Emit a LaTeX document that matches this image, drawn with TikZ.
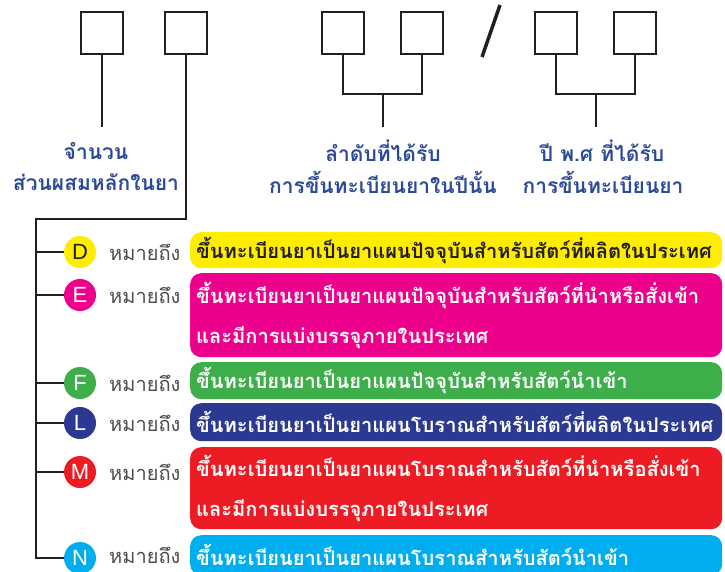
\documentclass[tikz,border=0pt]{standalone}
\usepackage{fontspec}
\newfontfamily\thai[Script=Thai]{Loma}
\newfontfamily\latin{Liberation Sans}
\definecolor{ink}{HTML}{231F20}
\definecolor{lblue}{HTML}{2D4A97}
\definecolor{cyel}{HTML}{FFED00}
\definecolor{cmag}{HTML}{EC008C}
\definecolor{cgrn}{HTML}{3DAE4A}
\definecolor{cnav}{HTML}{2B3990}
\definecolor{cred}{HTML}{ED1C24}
\definecolor{ccya}{HTML}{00AEEF}
\definecolor{gtxt}{HTML}{4D4D4F}
\tikzset{
  sq/.style={draw=ink, line width=2.6pt, minimum size=42pt, inner sep=0pt},
  conn/.style={draw=ink, line width=2.6pt},
  lbl/.style={text=lblue, font=\thai\bfseries\fontsize{21}{24}\selectfont, inner sep=0pt},
  circ/.style={circle, minimum size=32pt, inner sep=0pt, font=\latin\fontsize{22}{22}\selectfont, text=white},
  mean/.style={text=gtxt, font=\thai\fontsize{20}{22}\selectfont, inner sep=0pt, anchor=west},
  bar/.style={rounded corners=11pt, anchor=north west, text width=520pt, inner xsep=6pt, inner ysep=0pt, align=left, text=white, font=\thai\bfseries\fontsize{20.1}{40}\selectfont}
}
\begin{document}
\begin{tikzpicture}[x=1pt,y=-1pt]
\useasboundingbox (0,0) rectangle (725,571);
\clip (0,0) rectangle (725,571);
% top boxes
\node[sq] (b1) at (102,33) {};
\node[sq] (b2) at (186,33) {};
\node[sq] (b3) at (343,33) {};
\node[sq] (b4) at (422,33) {};
\node[sq] (b5) at (556,33) {};
\node[sq] (b6) at (635,33) {};
\coordinate (s1) at (500,5);
\coordinate (s2) at (482,57);
\draw[conn, line width=3.5pt] (s1) -- (s2);
% connectors
\coordinate (t1) at (102,127);
\draw[conn] (b1.south) -- (t1);
\coordinate (m1) at (383,94);
\coordinate (t2) at (383,127);
\draw[conn] (b3.south) |- (m1) -| (b4.south);
\draw[conn] (m1) -- (t2);
\coordinate (m2) at (596,94);
\coordinate (t3) at (596,127);
\draw[conn] (b5.south) |- (m2) -| (b6.south);
\draw[conn] (m2) -- (t3);
% labels
\node[lbl] (l1a) at (96,151) {จำนวน};
\node[lbl] (l1b) at (96,182) {ส่วนผสมหลักในยา};
\node[lbl] (l2a) at (383,151) {ลำดับที่ได้รับ};
\node[lbl] (l2b) at (383,182) {การขึ้นทะเบียนยาในปีนั้น};
\node[lbl] (l3a) at (602,151) {ปี พ.ศ ที่ได้รับ};
\node[lbl] (l3b) at (603,182) {การขึ้นทะเบียนยา};
% rows
\coordinate (spTop) at (36,219);
\node[circ, fill=cyel, text=ink] (cD) at (80,252) {D};
\node[circ, fill=cmag] (cE) at (80,295) {E};
\node[circ, fill=cgrn] (cF) at (80,383) {F};
\node[circ, fill=cnav] (cL) at (80,423) {L};
\node[circ, fill=cred] (cM) at (80,472) {M};
\node[circ, fill=ccya] (cN) at (80,558) {N};
\draw[conn] (b2.south) |- (spTop) |- (cN);
\foreach \c in {cD,cE,cF,cL,cM}{\draw[conn] (\c) -- (\c -| spTop);}
\node[mean] (mD) at (109,252) {หมายถึง};
\node[mean] (mE) at (109,295) {หมายถึง};
\node[mean] (mF) at (109,383) {หมายถึง};
\node[mean] (mL) at (109,423) {หมายถึง};
\node[mean] (mM) at (109,472) {หมายถึง};
\node[mean] (mN) at (109,555) {หมายถึง};
\node[bar, fill=cyel, text=ink, minimum height=36pt] (bD) at (190,232) {ขึ้นทะเบียนยาเป็นยาแผนปัจจุบันสำหรับสัตว์ที่ผลิตในประเทศ};
\node[bar, fill=cmag, minimum height=84pt] (bE) at (190,273) {ขึ้นทะเบียนยาเป็นยาแผนปัจจุบันสำหรับสัตว์ที่นำหรือสั่งเข้า\\และมีการแบ่งบรรจุภายในประเทศ};
\node[bar, fill=cgrn, minimum height=37pt] (bF) at (190,362) {ขึ้นทะเบียนยาเป็นยาแผนปัจจุบันสำหรับสัตว์นำเข้า};
\node[bar, fill=cnav, minimum height=38pt] (bL) at (190,403) {ขึ้นทะเบียนยาเป็นยาแผนโบราณสำหรับสัตว์ที่ผลิตในประเทศ};
\node[bar, fill=cred, minimum height=82pt] (bM) at (190,447) {ขึ้นทะเบียนยาเป็นยาแผนโบราณสำหรับสัตว์ที่นำหรือสั่งเข้า\\และมีการแบ่งบรรจุภายในประเทศ};
\node[bar, fill=ccya, minimum height=40pt] (bN) at (190,535) {ขึ้นทะเบียนยาเป็นยาแผนโบราณสำหรับสัตว์นำเข้า};
\end{tikzpicture}
\end{document}
